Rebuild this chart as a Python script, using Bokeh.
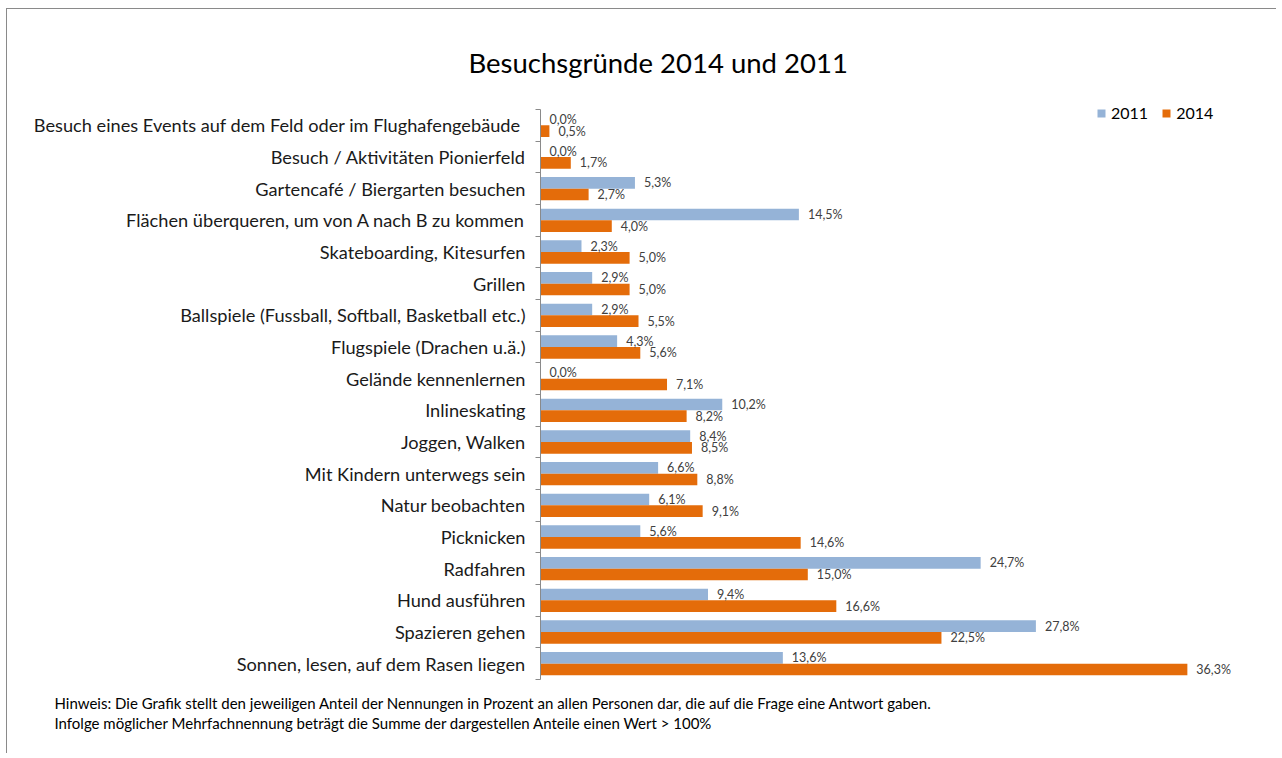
import numpy as np
from bokeh.plotting import figure
from bokeh.models import (ColumnDataSource, Range1d, FixedTicker, Legend, LegendItem, Title)
from bokeh.core.properties import value
from bokeh.embed import file_html
from bokeh.resources import INLINE

categories = [
    "Besuch eines Events auf dem Feld oder  im Flughafengebäude",
    "Besuch / Aktivitäten Pionierfeld",
    "Gartencafé / Biergarten besuchen",
    "Flächen überqueren, um von A nach B zu kommen",
    "Skateboarding, Kitesurfen",
    "Grillen",
    "Ballspiele (Fussball, Softball, Basketball etc.)",
    "Flugspiele (Drachen u.ä.)",
    "Gelände kennenlernen",
    "Inlineskating",
    "Joggen, Walken",
    "Mit Kindern unterwegs sein",
    "Natur beobachten",
    "Picknicken",
    "Radfahren",
    "Hund ausführen",
    "Spazieren gehen",
    "Sonnen, lesen, auf dem Rasen liegen",
]
values_2011 = [0.0, 0.0, 5.3, 14.5, 2.3, 2.9, 2.9, 4.3, 0.0, 10.2, 8.4, 6.6, 6.1, 5.6, 24.7, 9.4, 27.8, 13.6]
values_2014 = [0.5, 1.7, 2.7, 4.0, 5.0, 5.0, 5.5, 5.6, 7.1, 8.2, 8.5, 8.8, 9.1, 14.6, 15.0, 16.6, 22.5, 36.3]
series_names = ["2011", "2014"]

title_text = "Besuchsgründe 2014 und 2011"
note_lines = [
    "Hinweis: Die Grafik stellt den jeweiligen Anteil der Nennungen in Prozent an allen Personen dar, die auf die Frage eine Antwort gaben.",
    "Infolge möglicher Mehrfachnennung beträgt die Summe der dargestellen Anteile einen Wert > 100%",
]

FONT = "Lato"
BLUE = "#95b3d7"
ORANGE = "#e46c0a"

# layout constants (pixels)
CANVAS_X0, CANVAS_Y0 = 7, 9
FRAME_TOP = 89
AXIS_X, AXIS_TOP, AXIS_BOTTOM = 540, 109, 679
W, H = 1270, 745
PX_PER_PCT = 17.82

n = len(categories)
px_per_cat = (AXIS_BOTTOM - AXIS_TOP) / n
y_top_extra = (AXIS_TOP - FRAME_TOP) / px_per_cat
frame_w = W - (AXIS_X - CANVAS_X0)

centers = (n - 1 - np.arange(n)) + 0.5
bar_h = 0.368
off = bar_h / 2


def fmt(v):
    return f"{v:.1f}".replace(".", ",") + "%"


src11 = ColumnDataSource(dict(y=centers + off, v=values_2011, lab=[fmt(v) for v in values_2011]))
src14 = ColumnDataSource(dict(y=centers - off, v=values_2014, lab=[fmt(v) for v in values_2014]))

p = figure(width=W, height=H, output_backend="svg", toolbar_location=None,
           x_range=Range1d(0, frame_w / PX_PER_PCT), y_range=Range1d(0, n + y_top_extra),
           min_border_left=AXIS_X - CANVAS_X0, min_border_right=0,
           min_border_top=FRAME_TOP - CANVAS_Y0,
           min_border_bottom=(CANVAS_Y0 + H) - AXIS_BOTTOM)
p.margin = (CANVAS_Y0 - 1, 0, 0, CANVAS_X0 - 1)
p.outline_line_color = None
p.grid.visible = False
p.xaxis.visible = False
p.background_fill_color = "white"
p.border_fill_color = "white"
p.styles = {"border-left": "1px solid #8a8a8a", "border-top": "1px solid #8a8a8a"}

p.title.text = title_text
p.title.align = "left"
p.title.offset = 468 - AXIS_X
p.title.vertical_align = "bottom"
p.title.standoff = 22
p.title.text_font = FONT
p.title.text_font_size = "27.5px"
p.title.text_font_style = "normal"
p.title.text_color = "#000000"

r11 = p.hbar(y="y", right="v", left=0, height=bar_h, source=src11, fill_color=BLUE, line_color=None)
r14 = p.hbar(y="y", right="v", left=0, height=bar_h, source=src14, fill_color=ORANGE, line_color=None)

for src in (src11, src14):
    p.text(x="v", y="y", text="lab", source=src, x_offset=9, text_baseline="middle",
           text_align="left", text_font=value(FONT), text_font_size="12.5px", text_color="#404040")

yax = p.yaxis[0]
yax.bounds = (0, n)
yax.ticker = FixedTicker(ticks=list(centers), minor_ticks=list(np.arange(n + 1)))
yax.major_label_overrides = {float(c): cat for c, cat in zip(centers, categories)}
yax.major_tick_line_color = None
yax.major_tick_out = 0
yax.major_tick_in = 0
yax.minor_tick_out = 5
yax.minor_tick_in = 0
yax.minor_tick_line_color = "#8a8a8a"
yax.axis_line_color = "#8a8a8a"
yax.major_label_text_font = FONT
yax.major_label_text_font_size = "18.2px"
yax.major_label_text_color = "#1a1a1a"
yax.major_label_standoff = 10

note = Title(text="\n".join(note_lines), align="left", offset=54 - AXIS_X, standoff=28,
             vertical_align="top", text_line_height=1.16, text_font=FONT,
             text_font_size="15px", text_font_style="normal", text_color="#000000")
p.add_layout(note, "below")

legend = Legend(items=[LegendItem(label=series_names[0], renderers=[r11]),
                       LegendItem(label=series_names[1], renderers=[r14])],
                orientation="horizontal", location=(1096 - AXIS_X, AXIS_BOTTOM - 122),
                glyph_width=10, glyph_height=10,
                label_standoff=5, spacing=13, padding=0, margin=0, border_line_color=None,
                background_fill_alpha=0, label_text_font=FONT, label_text_font_size="16px",
                label_text_color="#000000")
p.add_layout(legend)

open("out.html", "w").write(file_html(p, INLINE))
